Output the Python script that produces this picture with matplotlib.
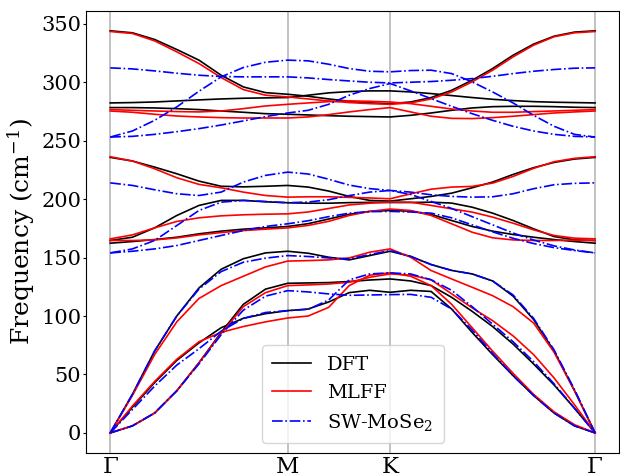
import numpy as np
import matplotlib
matplotlib.use("Agg")
import matplotlib.pyplot as plt

# High-symmetry path of the hexagonal Brillouin zone
labels = ["Γ", "M", "K", "Γ"]
seg_len = [1 / np.sqrt(3), 1 / 3, 2 / 3]
k_gm = np.linspace(0, seg_len[0], 9)
k_mk = seg_len[0] + np.linspace(0, seg_len[1], 6)[1:]
k_kg = seg_len[0] + seg_len[1] + np.linspace(0, seg_len[2], 11)[1:]
kpts = np.concatenate([k_gm, k_mk, k_kg])
ticks = np.cumsum([0] + seg_len)

# Phonon branches, frequencies in cm^-1 (Γ-M: 9 pts, M-K: 5, K-Γ: 10)
dft_1 = [0, 6, 17, 36, 60, 86, 110, 123, 128,
         128.3, 128.6, 129.5, 130.8, 131.7,
         130, 126, 116, 104, 91, 76, 59, 41, 21, 0]
dft_2 = [0, 22, 43, 62, 77, 90, 98, 102, 104.6,
         106, 112, 120, 122, 120.3,
         122, 121, 106, 86, 67, 49, 32, 17, 6, 0]
dft_3 = [0, 33, 70, 100, 124, 140, 149, 154, 155.4,
         153.7, 150.3, 148, 151.7, 155.4,
         151, 144, 139, 136, 130, 117, 97, 70, 36, 0]
dft_4 = [162.3, 163.7, 165.4, 167.4, 170.3, 172.6, 174.3, 175.4, 176.6,
         179, 183, 187, 189.5, 190.3,
         189.7, 186.9, 181.7, 176.6, 172.6, 169.7, 167.4, 165.4, 163.7, 162.3]
dft_5 = [164.6, 167.4, 175.4, 186, 194.6, 198.9, 198.9, 197.7, 196.9,
         196.5, 196.5, 197, 197.2, 197.1,
         197.1, 197.4, 196.6, 193.1, 188, 181.7, 174.6, 168, 165.1, 164.6]
dft_6 = [235.7, 232.6, 227.4, 221.7, 215.4, 211, 210.5, 211, 211.7,
         210.3, 206.9, 202.3, 198.9, 198.3,
         200.3, 202.3, 205.1, 209.7, 214.6, 221.1, 226.9, 231.4, 234.3, 235.7]
dft_7 = [278.3, 278.3, 278, 277.4, 276.6, 275.4, 274.3, 273.1, 272.6,
         272, 271.4, 270.9, 270.6, 270.3,
         271.7, 273.7, 276, 278, 279.1, 279.4, 279.4, 279.1, 278.6, 278.3]
dft_8 = [282.3, 282.6, 283.1, 284, 284.9, 285.7, 286.3, 286.6, 286.9,
         288.9, 290.9, 292, 292.6, 292.6,
         291.7, 290.3, 288.6, 286.9, 285.4, 284.3, 283.4, 282.9, 282.6, 282.3]
dft_9 = [344, 342.3, 336.6, 328, 318.9, 306, 296, 291.1, 289.7,
         288, 285.7, 283.7, 282.3, 281.7,
         283.1, 286.9, 293.1, 301.7, 311.7, 323.1, 332.6, 339.4, 342.9, 344]

mlff_1 = [0, 6, 17, 36, 60, 85, 108, 120, 126,
          126.6, 127.4, 128.9, 133.1, 136,
          135, 131, 119, 107, 96, 83, 67, 47, 24, 0]
mlff_2 = [0, 23, 44, 63, 78, 86, 91, 95, 98.3,
          100, 107.4, 126, 134.9, 137,
          134, 126, 110, 90, 70, 51, 33, 18, 7, 0]
mlff_3 = [0, 32, 67, 95, 115, 126, 134, 142, 147,
          147.4, 148, 149.7, 154.6, 157.4,
          150.3, 138.9, 131.7, 124.6, 117.4, 108, 94, 69, 36, 0]
mlff_4 = [164.6, 164.6, 165.1, 166.8, 169.4, 171.4, 173.1, 174.3, 175.4,
          177.5, 181, 186, 189.5, 191.5,
          190.3, 186, 178.9, 171.7, 166.9, 165.1, 164.6, 164.6, 164.9, 164.6]
mlff_5 = [166, 169.4, 175.4, 180.9, 184, 185.7, 186.6, 187.1, 187.4,
          189, 192, 195, 196.5, 197.5,
          197.4, 194.6, 191.7, 188.9, 184.6, 179.4, 173.7, 168.9, 166.6, 166]
mlff_6 = [236.3, 232.6, 226, 218.3, 212.6, 209.7, 206, 203.1, 201.7,
          202, 202, 201.5, 201, 200.3,
          204.5, 208.5, 210.3, 210.9, 213.7, 219.4, 226.3, 232, 234.9, 236.3]
mlff_7 = [275.4, 274.3, 272.6, 271.1, 270.3, 269.7, 269.4, 269.4, 269.4,
          270.3, 272.3, 274.6, 276.6, 278.3,
          274.6, 270.9, 269.1, 268.9, 269.7, 270.9, 272.3, 273.7, 274.6, 275.4]
mlff_8 = [276.6, 276, 275.4, 274.9, 274.6, 275.4, 277.4, 279.7, 281.1,
          282.3, 283.4, 284, 283.7, 283.1,
          281.7, 279.4, 277.1, 275.4, 274.3, 274.3, 274.9, 275.4, 276, 276.6]
mlff_9 = [343.4, 341.7, 335.4, 326, 316, 304, 293.7, 288.9, 287.4,
          285.7, 284, 282.6, 281.7, 281.1,
          282.3, 285.7, 291.7, 300.3, 310.3, 321.7, 331.7, 338.9, 342.3, 343.4]

sw_1 = [0, 6, 17, 36, 59, 84, 105, 117, 121.7,
        120.6, 118.9, 117.7, 118, 118.3,
        118.5, 116, 106, 88, 68, 49, 32, 17, 6, 0]
sw_2 = [0, 20, 40, 58, 72, 87, 98, 103, 104.6,
        105.7, 113.7, 130.9, 136, 136.9,
        136, 131, 122, 108, 93, 78, 61, 42, 21, 0]
sw_3 = [0, 33, 70, 100, 123, 138, 146, 149.5, 151.7,
        150.9, 149.7, 148.9, 152.6, 156,
        151, 144, 139, 136, 130, 118, 98, 71, 37, 0]
sw_4 = [154, 155.4, 157.4, 160.3, 164.6, 168.9, 173.1, 176.6, 178.9,
        181.5, 185, 188, 189.3, 189.5,
        189, 188, 184, 178, 172, 166.5, 162, 158.5, 156, 154]
sw_5 = [154, 157.4, 164.6, 177.4, 190.3, 197.4, 198.9, 198, 196.9,
        197.5, 199.5, 203, 206, 207.4,
        204, 198, 192, 185, 178, 171, 165, 160, 156.5, 154]
sw_6 = [213.9, 211.7, 208, 204.6, 203.1, 206, 214.6, 220.3, 223.1,
        221.5, 217, 212, 209, 207.4,
        206, 203.7, 202.3, 201.7, 202, 204.6, 208.9, 212.3, 213.5, 213.9]
sw_7 = [253.1, 253.7, 255.4, 257.7, 260.3, 263.4, 266.9, 270.6, 273.7,
        276, 281.1, 288.9, 294.6, 298.9,
        292.6, 286, 279.4, 273.1, 267.4, 262.3, 258.3, 255.4, 253.7, 253.1]
sw_8 = [253.1, 258.3, 267.4, 278.9, 292.3, 304.6, 312.6, 317.1, 318.9,
        318.3, 315.4, 311.7, 309.4, 308.9,
        310, 310.3, 307.4, 300.3, 291.7, 282.3, 271.7, 262.3, 255.4, 253.1]
sw_9 = [312.3, 311.4, 309.7, 307.7, 306, 304.9, 304.6, 304.6, 304.6,
        303.7, 302.3, 301.1, 300, 299.4,
        300, 300.6, 301.7, 303.1, 305.1, 307.4, 309.4, 310.9, 312, 312.3]

dft = [dft_1, dft_2, dft_3, dft_4, dft_5, dft_6, dft_7, dft_8, dft_9]
mlff = [mlff_1, mlff_2, mlff_3, mlff_4, mlff_5, mlff_6, mlff_7, mlff_8, mlff_9]
sw = [sw_1, sw_2, sw_3, sw_4, sw_5, sw_6, sw_7, sw_8, sw_9]

plt.rcParams["font.family"] = ["DejaVu Serif"]
plt.rcParams["mathtext.fontset"] = "dejavuserif"

fig = plt.figure(figsize=(6.2, 4.76), dpi=100)
ax = fig.add_axes([86 / 620, 1 - 453 / 476, (619.3 - 86) / 620, (453 - 10.7) / 476])

for t in ticks:
    ax.axvline(t, color="0.72", lw=1.2, zorder=0)

for i, b in enumerate(dft):
    ax.plot(kpts, b, color="black", lw=1.2, label="DFT" if i == 0 else None)
for i, b in enumerate(mlff):
    ax.plot(kpts, b, color="red", lw=1.2, label="MLFF" if i == 0 else None)
for i, b in enumerate(sw):
    ax.plot(kpts, b, color="blue", lw=1.2, ls="-.",
            label="SW-MoSe$_2$" if i == 0 else None)

ax.set_xticks(ticks)
ax.set_xticklabels(labels, fontsize=16.5)
ax.tick_params(axis="x", length=0, pad=2)
ax.tick_params(axis="y", labelsize=15, length=2.5, pad=1)
ax.set_ylabel("Frequency (cm$^{-1}$)", fontsize=18, labelpad=3)
ax.legend(loc="lower center", fontsize=14, framealpha=0.8, borderpad=0.55)

fig.savefig("out.png", dpi=100)
